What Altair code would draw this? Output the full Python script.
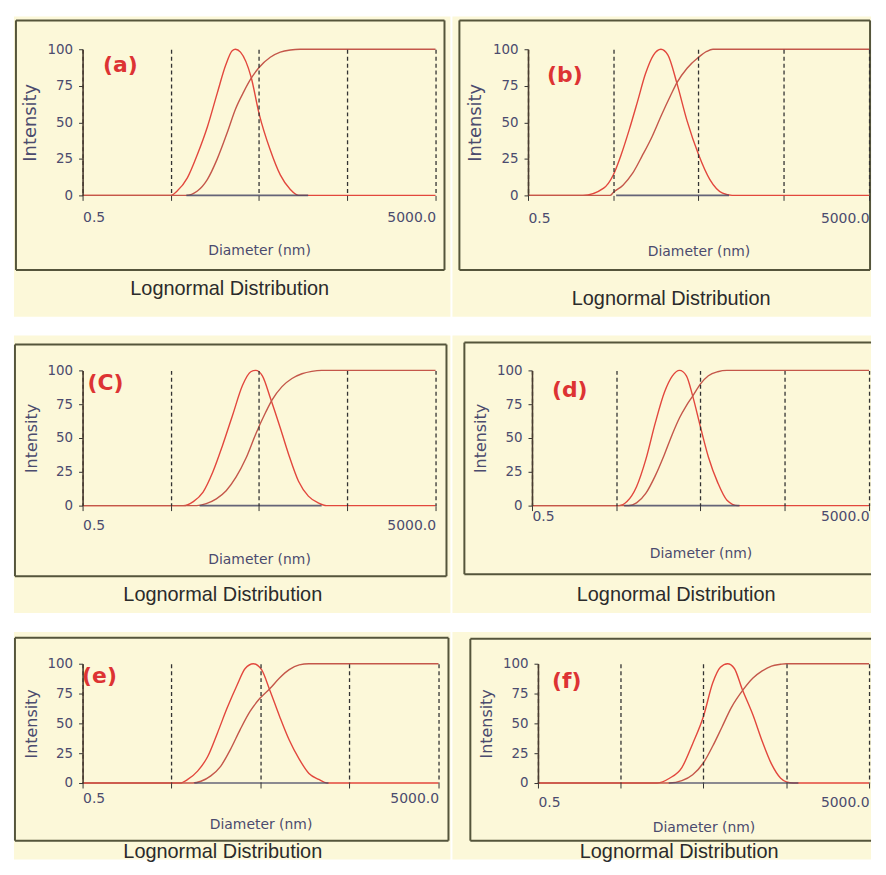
import altair as alt
import pandas as pd

# ---------------- data ----------------
LABELS = ["(a)", "(b)", "(C)", "(d)", "(e)", "(f)"]
TITLE = "Lognormal Distribution"
TICK_X = [0.5, 5, 50, 500, 5000]
TICK_Y = [0, 25, 50, 75, 100]

A_BELL_D = [0.5, 5, 5.9, 7.7, 10, 13, 16.8, 20.9, 24.8, 27, 30.8, 40.6, 50, 67, 87, 113, 140, 5000]
A_BELL_V = [0, 0, 3, 12, 28, 47, 70, 89, 99, 100, 98, 81, 56, 31, 14, 4, 0, 0]
A_CUM_D = [0.5, 7.4, 10, 13, 16.8, 21.8, 27, 33.6, 40.6, 50, 67, 87, 113, 146, 5000]
A_CUM_V = [0, 0, 3, 11, 25, 43, 59, 71, 80, 87.5, 94.5, 98, 99.5, 100, 100]

B_BELL_D = [0.5, 2.2, 3.86, 5, 6.2, 7.7, 9.6, 11.9, 14.8, 18.1, 21.9, 27.8, 36.7, 50, 67.7, 95.8, 124, 5000]
B_BELL_V = [0, 0, 5, 14, 28, 45, 64, 83, 96, 100, 96, 77, 51, 28, 11, 1.5, 0, 0]
B_CUM_D = [0.5, 4.6, 5, 6.5, 8.4, 10.9, 14.2, 18.4, 23.8, 27.8, 36.7, 50, 62.3, 73.8, 5000]
B_CUM_V = [0, 0, 2, 7, 15, 27, 40, 55, 69, 77, 87, 94.5, 98.5, 100, 100]

C_BELL_D = [0.5, 6.9, 9.0, 11.6, 15.0, 19.4, 25.1, 32.5, 40.3, 45.9, 54.5, 67.6, 87.4, 108, 140, 181, 235, 291, 5000]
C_BELL_V = [0, 0, 3, 10, 25, 45, 67, 89, 99, 100, 96, 79, 57, 38, 18, 7, 2, 0, 0]
C_CUM_D = [0.5, 9.8, 12.6, 16.4, 21.2, 27.4, 35.5, 45.9, 59.4, 70, 91, 118, 153, 198, 256, 5000]
C_CUM_V = [0, 0, 1.5, 5, 11, 21, 35, 53, 69, 78, 88, 94, 97.5, 99.3, 100, 100]

D_BELL_D = [0.5, 5.4, 6.7, 8.7, 11.2, 14.5, 18.7, 23.2, 28.2, 34, 40.4, 50, 62, 80, 103, 139, 5000]
D_BELL_V = [0, 0, 3, 14, 34, 61, 84, 96, 100, 96, 81, 58, 36, 17, 4, 0, 0]
D_CUM_D = [0.5, 7.0, 8.7, 11.2, 14.5, 18.7, 23.2, 28.2, 34, 40.4, 50, 62, 80, 103, 5000]
D_CUM_V = [0, 0, 2, 9, 22, 38, 53, 65, 74, 81, 90, 96, 99, 100, 100]

E_BELL_D = [0.5, 6.2, 7.6, 9.8, 12.7, 16.4, 21.1, 27.2, 33.6, 41.5, 51.3, 63.4, 81.7, 105, 136, 175, 226, 279, 5000]
E_BELL_V = [0, 0, 3, 10, 22, 42, 63, 82, 96, 100, 95, 78, 56, 36, 20, 8, 3, 0, 0]
E_CUM_D = [0.5, 8.7, 10.7, 13.8, 17.8, 22.9, 29.6, 38.1, 49.2, 63.4, 81.7, 105, 136, 175, 5000]
E_CUM_V = [0, 0, 1.5, 6, 14, 28, 45, 60, 71, 79, 88, 95, 99, 100, 100]

F_BELL_D = [0.5, 13.8, 19.4, 27.4, 37, 50, 64.7, 80, 97.7, 118, 146, 198, 256, 331, 428, 500, 604, 5000]
F_BELL_V = [0, 0, 4, 13, 33, 56, 84, 97, 100, 96, 79, 57, 35, 16, 4, 1, 0, 0]
F_CUM_D = [0.5, 19.4, 27.4, 37, 50, 64.7, 83.7, 108, 150, 198, 256, 331, 428, 500, 5000]
F_CUM_V = [0, 0, 2, 7, 17, 31, 47, 63, 78, 88, 94, 98, 99.5, 100, 100]

# darker baseline segment under each distribution (start, end diameter)
BASE_LO = [7.5, 5.4, 10.6, 6.2, 9.0, 19.0]
BASE_HI = [180, 114, 256, 145, 290, 700]

SERIES = [
    (A_BELL_D, A_BELL_V, A_CUM_D, A_CUM_V),
    (B_BELL_D, B_BELL_V, B_CUM_D, B_CUM_V),
    (C_BELL_D, C_BELL_V, C_CUM_D, C_CUM_V),
    (D_BELL_D, D_BELL_V, D_CUM_D, D_CUM_V),
    (E_BELL_D, E_BELL_V, E_CUM_D, E_CUM_V),
    (F_BELL_D, F_BELL_V, F_CUM_D, F_CUM_V),
]

# ---------------- styling / layout ----------------
BEIGE = "#fcf8d9"
BOX = "#55553b"
RED_BELL = "#e2473d"
RED_CUM = "#c4574a"
DASH = "#333333"
AXTXT = "#4b4b6e"
FONT = "DejaVu Sans"

GEOM = [
    dict(W=355, H=147, bg=(-69, 370, -33, 269), box=(-67, 364, -29, 222), right=True,
         lab=(38, 16), title=(148, 241), lp=10.5, tp=18.5, ifs=18),
    dict(W=343, H=147, bg=(-76, 345, -33, 269), box=(-69, 344, -29, 222), right=True,
         lab=(37, 26), title=(144, 251), lp=11.5, tp=18.5, ifs=18),
    dict(W=355, H=136, bg=(-69, 370, -35, 244), box=(-68, 366, -26, 207), right=True,
         lab=(23, 13), title=(141, 226), lp=8.5, tp=19.5, ifs=16),
    dict(W=339, H=136, bg=(-80, 341, -35, 244), box=(-68, 360, -28, 205), right=False,
         lab=(38, 20), title=(145, 226), lp=-1.5, tp=23.5, ifs=16),
    dict(W=358, H=120, bg=(-69, 370, -32, 197), box=(-68, 368, -26, 178), right=True,
         lab=(17, 12), title=(141, 189), lp=3.5, tp=12.5, ifs=16),
    dict(W=333, H=120, bg=(-86, 335, -32, 197), box=(-68, 360, -25, 178), right=False,
         lab=(29, 17), title=(142, 189), lp=7.5, tp=11.5, ifs=16),
]

ONE = alt.Data(values=[{}])


def panel(i):
    g = GEOM[i]
    bd, bv, cd, cv = SERIES[i]
    W, H = g["W"], g["H"]

    xaxis = alt.Axis(
        values=TICK_X,
        labelExpr="datum.value == 0.5 ? '0.5' : (datum.value == 5000 ? '5000.0' : '')",
        labelFlush=True, grid=True, gridDash=[4, 3], gridColor=DASH, gridWidth=1.3,
        domain=False, ticks=True, tickColor=DASH, tickSize=5,
        labelFont=FONT, labelFontSize=14, labelColor=AXTXT, labelPadding=g["lp"],
        title="Diameter (nm)", titleFont=FONT, titleFontSize=14, titleFontWeight="normal",
        titleColor=AXTXT, titlePadding=g["tp"], zindex=1,
    )
    yaxis = alt.Axis(
        values=TICK_Y, grid=False, domainColor="#4a3c30", domainWidth=1.6,
        tickColor=DASH, tickSize=4, labelFont=FONT, labelFontSize=13.5, labelColor=AXTXT,
        labelPadding=6, title="Intensity", titleFont=FONT, titleFontSize=g["ifs"],
        titleFontWeight="normal", titleColor=AXTXT, titlePadding=8, zindex=1,
    )
    xs = alt.Scale(type="log", domain=[0.5, 5000], nice=False)
    ys = alt.Scale(domain=[0, 100], nice=False)
    X = alt.X("d:Q", scale=xs, axis=xaxis)
    Y = alt.Y("v:Q", scale=ys, axis=yaxis)

    bx1, bx2, by1, by2 = g["bg"]
    beige = alt.Chart(ONE).mark_rect(fill=BEIGE).encode(
        x=alt.value(bx1), x2=alt.value(bx2), y=alt.value(by1), y2=alt.value(by2))

    x1, x2, y1, y2 = g["box"]
    xr = x2 if g["right"] else bx2
    rules = [
        alt.Chart(ONE).mark_rule(color=BOX, strokeWidth=2).encode(
            x=alt.value(x1), x2=alt.value(xr), y=alt.value(y1)),
        alt.Chart(ONE).mark_rule(color=BOX, strokeWidth=2).encode(
            x=alt.value(x1), x2=alt.value(xr), y=alt.value(y2)),
        alt.Chart(ONE).mark_rule(color=BOX, strokeWidth=2).encode(
            x=alt.value(x1), y=alt.value(y1), y2=alt.value(y2)),
    ]
    if g["right"]:
        rules.append(alt.Chart(ONE).mark_rule(color=BOX, strokeWidth=2).encode(
            x=alt.value(x2), y=alt.value(y1), y2=alt.value(y2)))

    bell = alt.Chart(pd.DataFrame({"d": bd, "v": bv})).mark_line(
        color=RED_BELL, strokeWidth=1.4, interpolate="monotone").encode(x=X, y=Y)
    cum = alt.Chart(pd.DataFrame({"d": cd, "v": cv})).mark_line(
        color=RED_CUM, strokeWidth=1.4, interpolate="monotone").encode(x=X, y=Y)
    base = alt.Chart(pd.DataFrame({"d": [BASE_LO[i]], "d2": [BASE_HI[i]], "v": [0]})).mark_rule(
        color="#4a4a66", strokeWidth=1.6, opacity=0.85).encode(x=X, x2="d2:Q", y=Y)

    lx, ly = g["lab"]
    label = alt.Chart(ONE).mark_text(
        text=LABELS[i], font=FONT, fontSize=22, fontWeight="bold", color="#dd3333",
        align="center", baseline="middle").encode(x=alt.value(lx), y=alt.value(ly))
    tx, ty = g["title"]
    title = alt.Chart(ONE).mark_text(
        text=TITLE, font="Liberation Sans", fontSize=20, color="#2b2b2b",
        align="center", baseline="middle").encode(x=alt.value(tx), y=alt.value(ty))

    return alt.layer(beige, *rules, bell, cum, base, label, title).properties(width=W, height=H)


row1 = alt.hconcat(panel(0), panel(1), spacing=0)
row2 = alt.hconcat(panel(2), panel(3), spacing=0)
row3 = alt.hconcat(panel(4), panel(5), spacing=0)

chart = alt.vconcat(row1, row2, row3, spacing=17).properties(
    padding=5
).configure_view(stroke=None).configure(background="white")

chart.save("out.html", embed_options={"renderer": "svg", "actions": False})
